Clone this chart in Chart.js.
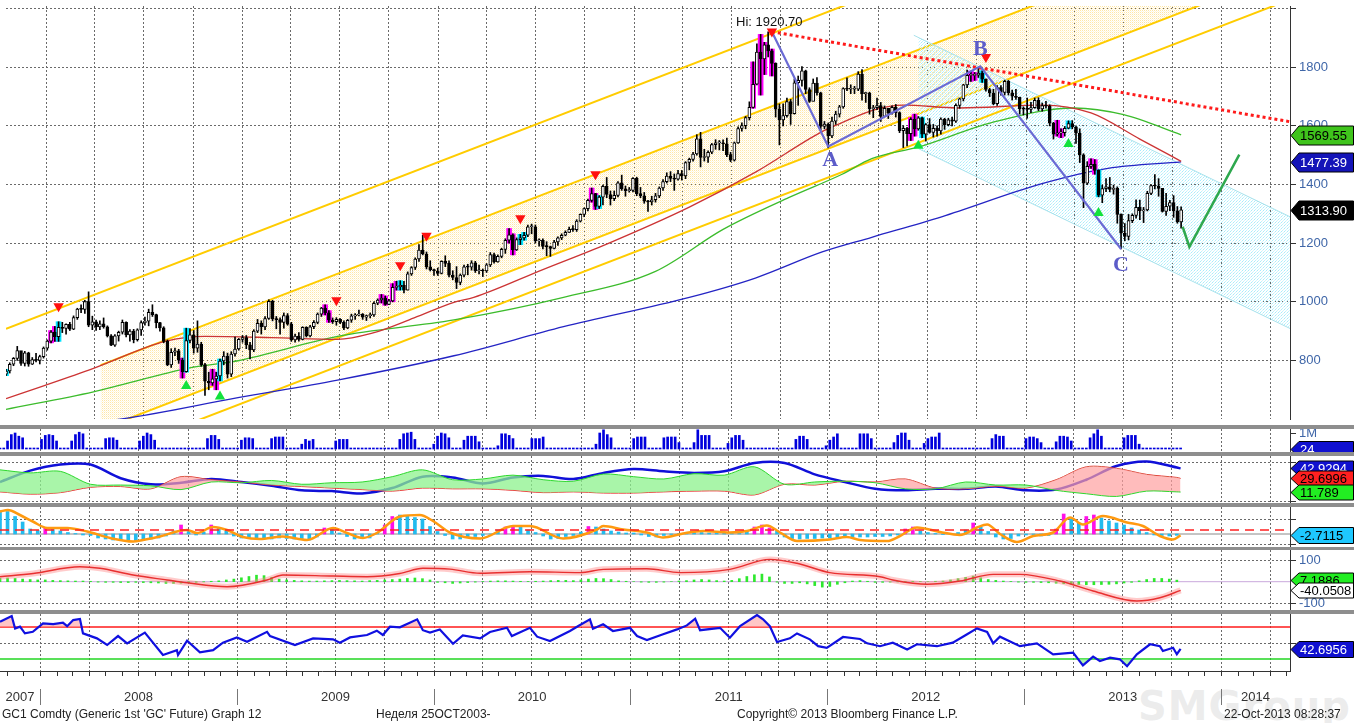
<!DOCTYPE html>
<html>
<head>
<meta charset="utf-8">
<script src="https://cdn.jsdelivr.net/npm/chart.js@4.4.1/dist/chart.umd.min.js"></script>
<style>
html, body { margin: 0; padding: 0; background: #fff; width: 1354px; height: 723px; overflow: hidden; font-family: "Liberation Sans", Arial, sans-serif; }
.pane { position: absolute; left: 0; width: 1354px; }
.band { position: absolute; left: 0; width: 1354px; background: #8e8e8e; }
.foot { position: absolute; top: 707px; font-size: 12px; line-height: 14px; color: #222; white-space: nowrap; }
#wm { position: absolute; left: 1138px; top: 683px; font: bold 40px "DejaVu Sans", sans-serif; color: rgba(200,200,200,0.35); letter-spacing: 1px; }
</style>
</head>
<body>
<div id="wm">SMGroup</div>
<div class="pane" style="top:0;height:425px"><canvas id="cMain"></canvas></div>
<div class="band" style="top:425px;height:4px"></div>
<div class="pane" style="top:429px;height:23px"><canvas id="cVol"></canvas></div>
<div class="band" style="top:452px;height:4px"></div>
<div class="pane" style="top:456px;height:47px"><canvas id="cDmi"></canvas></div>
<div class="band" style="top:503px;height:4px"></div>
<div class="pane" style="top:507px;height:40px"><canvas id="cMacd"></canvas></div>
<div class="band" style="top:547px;height:3px"></div>
<div class="pane" style="top:550px;height:60px"><canvas id="cOsc"></canvas></div>
<div class="band" style="top:610px;height:4px"></div>
<div class="pane" style="top:614px;height:109px"><canvas id="cRsi"></canvas></div>
<div class="foot" style="left:2px">GC1 Comdty (Generic 1st 'GC' Future) Graph 12</div>
<div class="foot" style="left:376px">Неделя 25OCT2003-</div>
<div class="foot" style="left:737px">Copyright© 2013 Bloomberg Finance L.P.</div>
<div class="foot" style="left:1224px">22-Oct-2013 08:28:37</div>
<script>
// weekly GC1 bars, first week ending 19 Oct 2007
const firstOpen = 753;
const closes = [
  764,787,807,834,790,826,787,803,800,813,842,
  866,897,881,913,909,923,907,946,975,974,1001,920,932,914,925,915,884,852,884,896,930,887,900,871,904,929,934,964,956,929,911,865,785,828,833,801,762,868,887,842,856,786,729,723,737,747,798,815,753,822,839,872,
  878,853,836,900,927,914,943,1002,942,939,930,953,924,870,883,872,913,884,915,930,958,979,962,938,932,940,930,911,937,952,954,958,948,953,955,995,1006,1013,991,1003,1049,1052,1056,1040,1095,1117,1146,1176,1163,1119,1110,1105,
  1097,1138,1131,1091,1083,1066,1091,1119,1118,1133,1106,1108,1105,1126,1161,1136,1155,1179,1210,1228,1177,1212,1218,1227,1256,1256,1208,1210,1189,1188,1182,1204,1218,1227,1237,1247,1246,1275,1298,1318,1346,1369,1325,1357,1394,1366,1352,1363,1406,1385,1379,1380,1421,
  1369,1361,1343,1341,1348,1361,1388,1410,1429,1421,1418,1437,1429,1475,1486,1504,1556,1492,1493,1510,1536,1542,1542,1539,1502,1483,1542,1591,1601,1628,1663,1742,1852,1828,1876,1856,1813,1657,1620,1635,1683,1642,1747,1755,1788,1724,1683,1746,1713,1598,1606,1566,
  1616,1640,1665,1727,1725,1725,1725,1777,1710,1712,1659,1662,1669,1632,1660,1643,1663,1645,1584,1592,1573,1622,1590,1627,1572,1604,1578,1592,1583,1623,1604,1621,1616,1670,1692,1740,1772,1772,1773,1780,1759,1724,1712,1676,1731,1714,1752,1713,1701,1697,1658,1657,
  1656,1662,1687,1658,1669,1667,1609,1572,1576,1577,1592,1608,1596,1575,1501,1405,1462,1469,1448,1364,1386,1392,1383,1387,1298,1234,1223,1277,1295,1322,1310,1313,1370,1396,1395,1387,1308,1326,1338,1310,1272,1313.9
];
const highs = [
  770,792,810,848,830,831,828,810,824,818,846,
  870,902,916,932,930,925,930,952,978,990,1005,1034,951,938,935,945,918,888,888,900,938,932,905,906,908,935,948,975,990,958,930,915,870,840,842,838,808,910,909,902,935,862,790,760,770,760,805,830,825,830,880,875,
  885,885,862,905,940,935,950,1007,1005,950,945,962,960,930,890,895,915,915,920,936,962,981,990,970,945,946,943,935,940,958,960,972,960,955,962,1000,1010,1025,1020,1008,1062,1070,1072,1070,1102,1120,1150,1195,1227,1170,1140,1112,
  1115,1140,1157,1140,1106,1120,1095,1125,1128,1140,1138,1125,1112,1130,1168,1166,1160,1183,1215,1250,1232,1218,1230,1237,1262,1265,1262,1215,1215,1205,1190,1210,1222,1232,1242,1255,1260,1280,1300,1320,1350,1388,1370,1362,1398,1424,1378,1378,1410,1432,1395,1390,1424,
  1425,1390,1373,1346,1360,1370,1392,1417,1440,1444,1436,1448,1448,1478,1490,1510,1570,1578,1520,1515,1540,1553,1550,1552,1558,1510,1545,1597,1610,1632,1682,1818,1880,1912,1885,1921,1862,1815,1675,1675,1695,1690,1760,1770,1802,1790,1730,1760,1765,1715,1615,1610,
  1630,1650,1670,1730,1764,1740,1735,1785,1792,1715,1715,1670,1695,1680,1668,1660,1668,1673,1648,1600,1595,1628,1640,1632,1630,1608,1625,1605,1600,1627,1626,1626,1630,1675,1695,1742,1790,1787,1782,1798,1788,1760,1728,1725,1737,1737,1756,1755,1722,1725,1698,1665,
  1695,1680,1695,1696,1678,1684,1672,1612,1619,1590,1598,1617,1618,1600,1590,1505,1478,1488,1485,1450,1398,1420,1424,1398,1392,1300,1267,1298,1300,1348,1347,1322,1377,1400,1434,1420,1387,1370,1346,1362,1325,1324
];
const lows = [
  748,757,782,800,783,781,780,786,795,788,808,
  835,860,865,865,895,890,902,905,940,963,960,915,905,902,905,910,880,850,848,866,890,880,866,860,866,885,920,918,950,911,900,860,782,776,816,790,740,760,860,825,828,780,681,700,715,700,730,785,740,745,815,835,
  862,840,805,830,895,890,905,940,935,908,890,910,920,865,862,866,870,880,880,908,925,950,955,930,926,920,925,905,908,930,940,952,940,936,945,950,990,996,988,990,1000,1040,1040,1030,1040,1090,1110,1138,1160,1112,1105,1090,
  1090,1095,1120,1085,1075,1045,1058,1085,1092,1108,1100,1095,1086,1100,1120,1132,1135,1150,1165,1200,1160,1175,1195,1210,1222,1232,1200,1190,1180,1157,1155,1180,1192,1212,1225,1237,1240,1240,1272,1290,1310,1340,1315,1318,1330,1355,1330,1345,1358,1380,1360,1374,1375,
  1362,1355,1336,1308,1330,1340,1355,1380,1405,1410,1380,1415,1415,1420,1450,1480,1500,1460,1480,1475,1505,1520,1518,1515,1495,1478,1480,1540,1582,1590,1620,1660,1740,1705,1775,1835,1770,1630,1535,1600,1630,1605,1640,1670,1735,1710,1680,1685,1705,1585,1590,1525,
  1560,1605,1630,1660,1720,1710,1710,1720,1688,1680,1640,1628,1655,1615,1635,1625,1640,1630,1577,1526,1532,1550,1565,1585,1560,1548,1575,1562,1565,1572,1588,1600,1600,1612,1660,1685,1730,1752,1755,1765,1748,1718,1700,1672,1670,1705,1705,1705,1688,1690,1640,1637,
  1626,1645,1660,1652,1650,1660,1600,1555,1565,1560,1565,1590,1590,1540,1475,1321,1400,1455,1435,1358,1338,1376,1375,1367,1268,1180,1208,1211,1270,1285,1280,1270,1310,1365,1385,1360,1306,1295,1311,1288,1268,1251
];
// volume, thousands of contracts
const volumes = [
  0.1,0.1,500,900,1000,800,700,0.1,0.1,0.1,0.1,600,850,900,850,500,0.1,0.1,0.1,500,900,1050,950,0.1,0.1,0.1,0.1,0.1,
  650,700,700,550,0.1,0.1,0.1,0.1,0.1,500,800,1000,900,550,0.1,0.1,0.1,0.1,0.1,0.1,0.1,0.1,0.1,0.1,0.1,0.1,0.1,
  650,850,850,600,0.1,0.1,0.1,0.1,0.1,550,700,700,650,0.1,0.1,0.1,0.1,650,750,750,750,0.1,0.1,0.1,0.1,
  300,600,500,600,0.1,0.1,0.1,0.1,0.1,500,600,600,600,0.1,0.1,0.1,0.1,0.1,0.1,0.1,0.1,0.1,0.1,0.1,0.1,0.1,
  600,950,1000,1050,600,0.1,0.1,0.1,0.1,300,800,1000,950,700,0.1,0.1,0.1,550,800,800,800,450,0.1,0.1,0.1,0.1,
  200,950,950,850,650,0.1,0.1,0.1,0.1,650,650,650,750,0.1,0.1,0.1,0.1,0.1,0.1,0.1,0.1,0.1,0.1,0.1,0.1,0.1,
  300,1000,1200,900,700,0.1,0.1,0.1,0.1,0.1,650,750,750,750,0.1,0.1,0.1,0.1,700,750,750,750,400,0.1,0.1,0.1,
  400,1200,850,850,850,0.1,0.1,0.1,0.1,350,700,850,850,550,0.1,0.1,0.1,0.1,0.1,0.1,0.1,0.1,0.1,0.1,0.1,0.1,0.1,
  600,800,800,600,0.1,0.1,0.1,0.1,200,550,750,950,0.1,0.1,0.1,0.1,0.1,950,950,950,650,0.1,0.1,0.1,0.1,0.1,
  400,850,1000,1000,550,0.1,0.1,0.1,350,650,750,750,1000,0.1,0.1,0.1,0.1,0.1,0.1,0.1,0.1,0.1,0.1,0.1,0.1,0.1,
  650,900,800,800,0.1,0.1,0.1,0.1,0.1,650,750,750,650,400,0.1,0.1,0.1,450,800,800,750,500,0.1,0.1,0.1,0.1,
  700,950,1200,800,0.1,0.1,0.1,0.1,0.1,700,850,850,850,300,0.1,0.1,0.1,0.1,0.1,0.1,0.1,0.1,0.1,0.1,0.024
];
const hotWeeks = [12,13,47,55,56,85,86,100,101,103,104,134,135,156,157,199,201,202,204,241,242,257,258,280,281,289,290];
const coolWeeks = [0,14,48,57,105,137,138,158,244,260,283,291];
const sellMarks = [[14,985],[88,1005],[105,1125],[112,1225],[137,1285],[157,1435],[204,1922],[261,1835]];
const buyMarks = [[48,713],[57,677],[243,1532],[283,1538],[291,1303]];

// moving averages, read as [week, price]
const maRed = [[0,670],[10.6,716],[23.3,773],[42.4,865],[53,882],[70.8,878],[88.3,872],[97.3,892],[108.7,945],[119.3,998],[124.6,1015],[143,1110],[160,1197],[182,1323],[200,1445],[217,1578],[222.7,1611],[231,1654],[239,1671],[254,1661],[276,1671],[289,1644],[302,1555],[313,1479]];
const maGreen = [[0,633],[23.3,693],[49.6,776],[61.8,799],[88.3,882],[119.3,938],[148.5,1015],[173,1104],[191,1247],[208.6,1356],[222.7,1435],[230.6,1488],[243.1,1528],[262.5,1611],[284.5,1661],[297.7,1638],[313,1569.55]];
const maBlue = [[0,560],[30.5,600],[61.8,673],[88.3,733],[119.3,816],[148.5,915],[182,1015],[199.6,1081],[217.4,1170],[230.6,1220],[249.2,1290],[275.7,1402],[293.5,1455],[313,1477.39]];

// drawn studies, endpoints as [week, price]
const outerTop = [[0,908],[224,2014]];
const chanTop = [[25.2,784],[342,2348]];
const chanBottom = [[25.2,565],[342,2130]];
const outerBottom = [[40,541],[338,2011]];
const cyanTop = [[241.8,1909],[342,1290]];
const cyanBottom = [[243.1,1522],[342,909]];
const hiLine = [[204,1921],[342,1614]];
const abcPath = [[204,1921],[219,1530],[259.5,1803],[297,1180]];
const projPath = [[313.4,1256],[315.2,1187],[328.5,1502]];
const waveLabels = [['A',219.5,1482],['B',259.5,1862],['C',297,1124]];
const hiLabel = ['Hi: 1920.70', 203.3, 1952];
const priceTicks = [800,1000,1200,1400,1600,1800,2000];

// DMI
const dmiWeeks = [0,8,16,24,32,40,48,56,64,72,80,88,96,104,112,120,128,136,144,152,160,168,176,184,192,200,208,216,224,232,240,248,256,264,272,280,288,296,304,312,313];
const adx = [25,40,48,48,30,22,24,29,25,20,14,13,10,17,32,31,23,31,33,29,37,42,39,37,39,50,50,35,25,16,14,16,16,19,14,15,28,46,52,44,42.9294];
const diMinus = [12,9,11,18,19,16,32,28,25,21,19,17,15,13,17,16,16,14,11,12,10.5,10.5,12,13,13,8,22,21,26,25,29,17,16,19.5,17,28,45,43,35,31,29.6996];
const diPlus = [41,37,39,22,21,20,15,25,24,27,22,24,25,32,41,28,29,34,28,26,35.5,32,29,36,34,45,22,25,26,24,16,16,25,21,21,14,9.5,6,13,12,11.789];

// MACD histogram, one value every 2 weeks
const macdStep = 2;
const macdHist = [47,45,35,24,10,7,12,9,6,3,1,-2,-3,-8,-10,-12,-12,-12,-13,-12,-10,-8,-4,6,18,5,-2,4,18,12,6,-4,-8,-9,-8,-9,-10,-8,-9,-10,-9,-12,-6,12,10,2,-5,-10,-9,-8,2,18,35,38,36,33,30,15,5,-3,-10,-10,-6,-5,-3,0,8,14,16,14,8,3,-4,-10,-9,-5,-3,4,15,14,10,6,4,2,2,-2,-5,-6,-3,-1,1,2,3,3,2,2,2,1,3,6,14,18,12,6,-6,-9,-10,-9,-9,-8,-8,-7,-7,-6,-6,-6,-5,-5,-4,-2,10,14,6,3,1,-1,0,3,8,22,14,5,-6,-10,-9,-4,-2,-1,-4,-3,10,40,30,22,35,38,32,26,22,18,12,8,3,-2,-3,-4,-2.7115];
const macdHotWeeks = [12,48,56,86,102,104,134,136,156,200,202,204,240,242,258,280,282,288,290];
const macdSignal = [[0,45],[2.1,48],[5.3,38],[8.7,25],[12.5,12],[17.8,12],[23.1,5],[29.2,-8],[35.3,-15],[37.9,-12],[42.4,-5],[46.9,5],[49.6,8],[52.2,2],[56.5,14],[60.2,8],[64.4,-6],[68.9,-10],[75,-5],[81.4,-12],[88.3,12],[92,2],[96.2,-8],[99.9,2],[106,35],[111.3,38],[114.8,26],[119.3,3],[127.3,-9],[136,16],[140.5,16],[149.3,-9],[158.3,9],[159.9,16],[165.2,9],[171.5,3],[175.8,-7],[181.1,1],[186.4,6],[193.5,3],[198,6],[203.3,17],[206.8,3],[211.3,-14],[220,-11],[224.5,-6],[228,-12],[235.2,-14],[238.6,-4],[243.1,13],[249.2,4],[254.5,-2],[259,13],[261.7,19],[265.1,0],[269.6,-16],[273.9,-4],[279.2,3],[283.7,33],[287.1,19],[292.4,36],[298.8,23],[303,16],[307.5,-4],[311,-11],[313,-2.7]];
const macdLevel = 8;

// oscillator
const oscLine = [[0,23],[8.8,38],[21.2,69],[26.5,62],[35.3,31],[44.3,8],[49.6,-5],[60.2,-23],[70.8,8],[75,31],[88.3,26],[97.3,23],[106,38],[112.1,62],[119.3,58],[127.3,39],[140.5,46],[153.8,42],[159.9,57],[171.5,60],[180.3,42],[193.5,57],[204.1,103],[211.3,85],[220,42],[233.3,23],[236.7,8],[245.8,-12],[254.5,3],[263.3,34],[270.4,34],[281,3],[289.8,-43],[301.4,-89],[307.5,-74],[313,-40.0508]];
const oscHist = [15,17,15,12,10,8,8,6,5,4,3,3,2,-2,-3,-3,-4,-4,-3,-4,-5,-6,-8,-8,-7,-5,-3,-1,2,4,8,12,18,24,30,28,20,12,8,6,4,3,3,4,5,6,5,4,3,5,6,8,10,12,15,17,14,8,-3,-5,-8,-6,-4,-2,1,3,4,4,3,2,1,2,3,5,6,6,5,8,12,15,14,10,4,2,0,-2,-3,-3,-2,0,3,5,8,10,8,5,3,6,14,24,32,35,22,-2,-8,-8,-5,-10,-18,-25,-22,-12,-5,3,5,2,-3,-3,-2,-1,1,2,1,0,2,3,8,14,20,26,18,10,6,3,1,-2,-3,-3,-4,-5,-7,-9,-11,-13,-14,-14,-13,-12,-10,-6,-3,4,10,15,15,12,7.1886];

// RSI
const rsiLine = [[0,76.6],[3.1,83.8],[4,68],[5.3,70.4],[6.6,62],[8.7,64],[11.4,74.6],[14.1,73.7],[16.7,75.4],[17.8,71],[19.4,78.7],[21.2,80],[22,62],[25.7,55.8],[28.4,47.5],[31.3,58.7],[33.7,49.6],[38.4,62.9],[43.2,35],[46.9,41],[47.2,35],[49.6,52.9],[53,38.3],[56.5,41],[59.1,50.4],[62.8,57],[65.5,51.6],[70.8,64],[71.6,58.7],[78.2,47.5],[83,55.8],[88.3,54.6],[90.1,50.4],[92.8,57],[97.3,60],[99.9,65.4],[101.5,60],[103.4,70.4],[106,69.6],[110.6,79.6],[112.1,66],[114,63],[116.6,67],[120.1,49],[122.7,59.6],[127.3,55.8],[129.9,63.8],[134.4,69],[135.7,58.7],[140.5,69],[142.4,57.9],[145.8,52.5],[151.1,65],[153.2,71],[156.4,79.6],[157.2,67.9],[159.9,73.4],[162.5,65],[167,69],[168.9,58.7],[171.5,53.8],[175.8,60.9],[179.5,67],[182.1,72],[184.3,80.4],[185.6,66],[190.9,69],[193.5,56.6],[196.2,71],[200.7,85],[202.3,79.6],[204.1,71],[206,51.3],[209.4,55.8],[211.3,62],[214.7,54.6],[216.9,46],[219.2,44],[223.5,57.5],[228,55],[229.9,49.6],[233.3,46],[236.7,50.4],[240.5,42],[243.1,48.4],[248.4,46],[252.6,50.4],[256.4,60.9],[259,68.3],[261.7,63.8],[263.3,49.6],[265.1,57.9],[270.4,46],[274.9,49.6],[279.2,35.8],[284.5,37.9],[287.1,22],[289.8,32.9],[291.6,27.5],[294.3,31.6],[296.9,29.6],[298.8,21],[301.4,35.8],[304.9,48.4],[307.5,46],[308.3,40],[311,44],[312,36],[313,42.6956]];
const rsiHigh = 70, rsiLow = 30;
const yearLabels = ['2007','2008','2009','2010','2011','2012','2013','2014'];

// ---- calendar helpers ----
const W0 = Date.UTC(2007, 9, 19);
const X_MAX = 342;
const weekOf = (y, m) => (Date.UTC(y, m - 1, 1) - W0) / 6048e5;
const quarterStarts = [], monthStarts = [];
for (let y = 2007; y <= 2014; y++) {
  for (let m = 1; m <= 12; m++) {
    const w = weekOf(y, m);
    if (w < 0 || w > X_MAX) continue;
    monthStarts.push(w);
    if ((m - 1) % 3 === 0) quarterStarts.push(w);
  }
}

Chart.defaults.font.family = '"Liberation Sans", Arial, sans-serif';
Chart.defaults.animation = false;
Chart.defaults.events = [];
Chart.defaults.maintainAspectRatio = false;
Chart.defaults.plugins.legend.display = false;
Chart.defaults.plugins.tooltip.enabled = false;
Chart.defaults.elements.point.radius = 0;

const pts = a => a.map(p => ({ x: p[0], y: p[1] }));

// dotted fills like the terminal's shaded channels
function stipple(size, dots) {
  const c = document.createElement('canvas');
  c.width = c.height = size;
  const g = c.getContext('2d');
  dots.forEach(d => { g.fillStyle = d[2]; g.fillRect(d[0], d[1], 1, 1); });
  return g.createPattern(c, 'repeat');
}
const yellowFill = stipple(2, [[0, 0, '#ffe6a6'], [1, 1, '#fff6dc']]);
const cyanFill = stipple(3, [[0, 0, '#a8ecfa'], [2, 1, '#d2f6fd'], [1, 2, '#c0f2fc']]);

const xAxis = { type: 'linear', min: 0, max: X_MAX, offset: false, display: false };
function yAxis(min, max, ticks, labels, fmt) {
  return {
    position: 'right', min, max,
    afterFit(s) { s.width = 64; s.paddingTop = 0; s.paddingBottom = 0; },
    afterBuildTicks(s) { s.ticks = ticks.map(v => ({ value: v })); },
    ticks: { display: labels, color: '#3f66a8', font: { size: 13 }, padding: 3, autoSkip: false, callback: fmt || (v => v) },
    grid: { color: '#6a6a6a', tickLength: 6, tickColor: '#333', tickBorderDash: [] },
    border: { display: true, color: '#333', dash: [2, 2] }
  };
}

const vGrid = {
  id: 'vGrid',
  beforeDatasetsDraw(chart) {
    const { ctx, chartArea: a, scales: { x } } = chart;
    ctx.save();
    ctx.strokeStyle = '#6a6a6a';
    ctx.lineWidth = 1;
    ctx.setLineDash([2, 2]);
    quarterStarts.forEach(w => {
      const px = Math.round(x.getPixelForValue(w)) + 0.5;
      ctx.beginPath(); ctx.moveTo(px, a.top); ctx.lineTo(px, a.bottom); ctx.stroke();
    });
    ctx.restore();
  }
};

function tagPlugin(tags, h) {
  return {
    id: 'tags',
    afterDraw(chart) {
      const { ctx } = chart;
      const y = chart.scales.y;
      ctx.save();
      ctx.font = '13px "Liberation Sans", Arial';
      ctx.textBaseline = 'middle';
      tags.forEach(t => {
        const py = Math.round(y.getPixelForValue(t.value)) + 0.5;
        ctx.beginPath();
        ctx.moveTo(1291, py);
        ctx.lineTo(1299, py - h / 2);
        ctx.lineTo(1353.5, py - h / 2);
        ctx.lineTo(1353.5, py + h / 2);
        ctx.lineTo(1299, py + h / 2);
        ctx.closePath();
        ctx.fillStyle = t.bg;
        ctx.fill();
        ctx.strokeStyle = '#000';
        ctx.lineWidth = 1;
        ctx.stroke();
        ctx.fillStyle = t.fg;
        ctx.fillText(t.text, 1300, py + 1);
      });
      ctx.restore();
    }
  };
}

const lineDs = (data, color, width, extra) => Object.assign({
  type: 'line', data: pts(data), borderColor: color, borderWidth: width, pointRadius: 0, fill: false
}, extra || {});
const levelDs = (v, color, width, extra) => lineDs([[0, v], [X_MAX, v]], color, width, extra);

// ---- main price chart ----
const opens = closes.map((c, i) => i ? closes[i - 1] : firstOpen);
const annoPlugin = {
  id: 'anno',
  afterDatasetsDraw(chart) {
    const { ctx, scales: { x, y } } = chart;
    ctx.save();
    ctx.textAlign = 'center';
    ctx.textBaseline = 'middle';
    ctx.fillStyle = '#111';
    ctx.font = '13px "Liberation Sans", Arial';
    ctx.fillText(hiLabel[0], x.getPixelForValue(hiLabel[1]), y.getPixelForValue(hiLabel[2]));
    ctx.font = 'bold 22px "Liberation Serif", "DejaVu Serif", serif';
    ctx.fillStyle = '#5c5cc9';
    waveLabels.forEach(l => ctx.fillText(l[0], x.getPixelForValue(l[1]), y.getPixelForValue(l[2])));
    ctx.restore();
  }
};

new Chart(document.getElementById('cMain'), {
  type: 'bar',
  data: {
    datasets: [
      lineDs(chanTop, '#ffcc00', 2, { order: 100, fill: { target: '+1', above: yellowFill, below: yellowFill } }),
      lineDs(chanBottom, '#ffcc00', 2, { order: 99 }),
      lineDs(cyanTop, '#a8e2ec', 1, { order: 98, fill: { target: '+1', above: cyanFill, below: cyanFill } }),
      lineDs(cyanBottom, '#a8e2ec', 1, { order: 97 }),
      lineDs(outerTop, '#ffcc00', 2, { order: 96 }),
      lineDs(outerBottom, '#ffcc00', 2, { order: 95 }),
      lineDs(maBlue, '#2424c4', 1.3, { order: 60, cubicInterpolationMode: 'monotone' }),
      lineDs(maGreen, '#3cbc2c', 1.3, { order: 59, cubicInterpolationMode: 'monotone' }),
      lineDs(maRed, '#cc3434', 1.3, { order: 58, cubicInterpolationMode: 'monotone' }),
      {
        type: 'bar', order: 40, grouped: false, barThickness: 5,
        data: closes.map((c, i) => ({ x: i, y: hotWeeks.includes(i) || coolWeeks.includes(i) ? [lows[i], highs[i]] : null })),
        backgroundColor: ctx => coolWeeks.includes(ctx.dataIndex) ? '#00e4ff' : '#ff00ff'
      },
      {
        type: 'bar', order: 30, grouped: false, barThickness: 1,
        data: closes.map((c, i) => ({ x: i, y: [lows[i], highs[i]] })),
        backgroundColor: '#000'
      },
      {
        type: 'bar', order: 20, grouped: false, barThickness: 3, minBarLength: 1,
        data: closes.map((c, i) => ({ x: i, y: [opens[i], c] })),
        backgroundColor: closes.map((c, i) => c >= opens[i] ? '#fff' : '#000'),
        borderColor: '#000', borderWidth: 1, borderSkipped: false
      },
      lineDs(hiLine, '#ff1a1a', 3, { order: 10, borderDash: [3, 3] }),
      lineDs(abcPath, '#6b6bd4', 2.2, { order: 9 }),
      lineDs(projPath, '#2ea84e', 2.5, { order: 8 }),
      {
        type: 'scatter', order: 2, data: pts(sellMarks), pointStyle: 'triangle', rotation: 180,
        pointRadius: 6, backgroundColor: '#ff1010', borderColor: '#ff1010', borderWidth: 0
      },
      {
        type: 'scatter', order: 1, data: pts(buyMarks), pointStyle: 'triangle',
        pointRadius: 6, backgroundColor: '#12e23c', borderColor: '#12e23c', borderWidth: 0
      }
    ]
  },
  options: {
    layout: { padding: 0 },
    scales: { x: xAxis, y: yAxis(600.3, 2008.8, priceTicks, true, v => v === 2000 ? '' : v) }
  },
  plugins: [vGrid, annoPlugin, tagPlugin([
    { value: maGreen[maGreen.length - 1][1], text: '1569.55', bg: '#3fc41c', fg: '#000' },
    { value: maBlue[maBlue.length - 1][1], text: '1477.39', bg: '#1414b8', fg: '#fff' },
    { value: closes[closes.length - 1], text: '1313.90', bg: '#000', fg: '#fff' }
  ], 19)]
});

// ---- volume ----
const volAxis = yAxis(-187.5, 1250, [1000], true, () => '1M');
volAxis.grid.drawOnChartArea = false;
new Chart(document.getElementById('cVol'), {
  type: 'bar',
  data: {
    datasets: [{
      data: volumes.map((v, i) => ({ x: i, y: v })), backgroundColor: '#0000dc',
      barThickness: 2, minBarLength: 1, grouped: false
    }]
  },
  options: {
    layout: { padding: 0 },
    scales: { x: xAxis, y: volAxis }
  },
  plugins: [vGrid, tagPlugin([{ value: volumes[volumes.length - 1], text: '24', bg: '#1010d0', fg: '#fff' }], 16)]
});

// ---- DMI ----
new Chart(document.getElementById('cDmi'), {
  type: 'line',
  data: {
    datasets: [
      {
        data: dmiWeeks.map((w, i) => ({ x: w, y: diPlus[i] })), borderColor: '#2ed82e', borderWidth: 1, tension: 0.3,
        fill: { target: 1, above: 'rgba(140,242,140,0.75)', below: 'rgba(255,160,160,0.7)' }
      },
      { data: dmiWeeks.map((w, i) => ({ x: w, y: diMinus[i] })), borderColor: '#e82828', borderWidth: 1, tension: 0.3 },
      { data: dmiWeeks.map((w, i) => ({ x: w, y: adx[i] })), borderColor: '#1010d8', borderWidth: 2.5, tension: 0.3 }
    ]
  },
  options: {
    layout: { padding: 0 },
    scales: { x: xAxis, y: yAxis(-2.63, 59.2, [0, 50], false) }
  },
  plugins: [vGrid, tagPlugin([
    { value: adx[adx.length - 1], text: '42.9294', bg: '#1010d0', fg: '#fff' },
    { value: diMinus[diMinus.length - 1], text: '29.6996', bg: '#ff2020', fg: '#000' },
    { value: diPlus[diPlus.length - 1], text: '11.789', bg: '#22ee22', fg: '#000' }
  ], 15)]
});

// ---- MACD ----
new Chart(document.getElementById('cMacd'), {
  type: 'bar',
  data: {
    datasets: [
      levelDs(macdLevel, '#ff2020', 1.3, { order: 1, borderDash: [9, 6] }),
      lineDs(macdSignal, '#ff9a10', 2.5, { order: 2, cubicInterpolationMode: 'monotone' }),
      {
        type: 'bar', order: 3, grouped: false, barThickness: 3,
        data: macdHist.map((v, i) => ({ x: i * macdStep, y: v })),
        backgroundColor: macdHist.map((v, i) => macdHotWeeks.includes(i * macdStep) ? '#ff10e8' : '#22bbee')
      },
      levelDs(0, '#8a8a8a', 1, { order: 4 })
    ]
  },
  options: {
    layout: { padding: 0 },
    scales: { x: xAxis, y: yAxis(-26, 54, [-20, 30], false) }
  },
  plugins: [vGrid, tagPlugin([{ value: macdHist[macdHist.length - 1], text: '-2.7115', bg: '#1ec8ff', fg: '#000' }], 16)]
});

// ---- oscillator ----
new Chart(document.getElementById('cOsc'), {
  type: 'bar',
  data: {
    datasets: [
      lineDs(oscLine, '#e83030', 1.4, { order: 1, cubicInterpolationMode: 'monotone' }),
      lineDs(oscLine, 'rgba(255,140,140,0.45)', 6, { order: 2, cubicInterpolationMode: 'monotone' }),
      {
        type: 'bar', order: 3, grouped: false, barThickness: 2,
        data: oscHist.map((v, i) => ({ x: i * macdStep, y: v })), backgroundColor: '#2ee82e'
      },
      levelDs(0, '#c9a8dc', 1, { order: 4 })
    ]
  },
  options: {
    layout: { padding: 0 },
    scales: { x: xAxis, y: yAxis(-130.7, 146.4, [-100, 100], true) }
  },
  plugins: [vGrid, tagPlugin([
    { value: oscHist[oscHist.length - 1], text: '7.1886', bg: '#22ee22', fg: '#000' },
    { value: oscLine[oscLine.length - 1][1], text: '-40.0508', bg: '#fff', fg: '#000' }
  ], 15)]
});

// ---- RSI + time axis ----
const timeAxis = {
  id: 'timeAxis',
  afterDraw(chart) {
    const { ctx, chartArea: a, scales: { x } } = chart;
    const yb = a.bottom;
    ctx.save();
    ctx.strokeStyle = '#333';
    ctx.lineWidth = 1;
    ctx.beginPath(); ctx.moveTo(a.left, yb + 0.5); ctx.lineTo(a.right, yb + 0.5); ctx.stroke();
    monthStarts.forEach(w => {
      const px = Math.round(x.getPixelForValue(w)) + 0.5;
      ctx.beginPath(); ctx.moveTo(px, yb); ctx.lineTo(px, yb + 5); ctx.stroke();
    });
    ctx.strokeStyle = '#777';
    ctx.fillStyle = '#333';
    ctx.font = '13px "Liberation Sans", Arial';
    ctx.textAlign = 'center';
    ctx.textBaseline = 'middle';
    yearLabels.forEach(lbl => {
      const yr = +lbl;
      const s = Math.max(0, weekOf(yr, 1)), e = Math.min(X_MAX, weekOf(yr + 1, 1));
      if (weekOf(yr, 1) > 0) {
        const px = Math.round(x.getPixelForValue(weekOf(yr, 1))) + 0.5;
        ctx.beginPath(); ctx.moveTo(px, yb + 18); ctx.lineTo(px, yb + 34); ctx.stroke();
      }
      ctx.fillText(lbl, x.getPixelForValue((s + e) / 2), yb + 26);
    });
    ctx.restore();
  }
};

new Chart(document.getElementById('cRsi'), {
  type: 'line',
  data: {
    datasets: [
      lineDs(rsiLine, '#1010e0', 2.2, { order: 1, fill: { target: { value: rsiHigh }, above: 'rgba(255,160,160,0.6)', below: 'rgba(0,0,0,0)' } }),
      lineDs(rsiLine, 'rgba(0,0,0,0)', 0, { order: 2, fill: { target: { value: rsiLow }, above: 'rgba(0,0,0,0)', below: 'rgba(140,240,140,0.7)' } }),
      levelDs(rsiHigh, '#ff1a1a', 1.3, { order: 3 }),
      levelDs(rsiLow, '#22d622', 1.3, { order: 4 })
    ]
  },
  options: {
    layout: { padding: { bottom: 52 } },
    scales: { x: xAxis, y: yAxis(15, 86.25, [50], false) }
  },
  plugins: [vGrid, timeAxis, tagPlugin([{ value: rsiLine[rsiLine.length - 1][1], text: '42.6956', bg: '#1010d0', fg: '#fff' }], 16)]
});
</script>
</body>
</html>
